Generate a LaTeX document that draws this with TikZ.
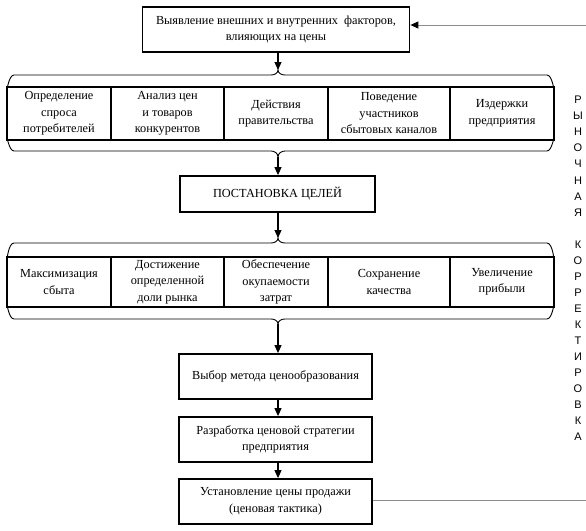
\documentclass[tikz,border=0pt]{standalone}
\usepackage{fontspec}
\setmainfont{Liberation Serif}
\newfontfamily\vfont{Liberation Sans}
\usetikzlibrary{arrows.meta}
\begin{document}
\begin{tikzpicture}[x=1pt,y=-1pt,
  box/.style={draw, line width=1.8pt, align=center, inner sep=0pt,
    font=\fontsize{12.3}{16.5}\selectfont},
  arr/.style={-{Triangle[length=8pt,width=7pt,color=black]}, line width=1.1pt},
  brace/.style={line width=0.9pt},
  fb/.style={line width=1pt, black!45},
  vl/.style={font=\vfont\fontsize{11}{12}\selectfont, inner sep=0pt}
]
\useasboundingbox (0,0) rectangle (586,530);

% top box
\node[box, minimum width=267pt, minimum height=45pt] (f) at (276,29.5)
  {Выявление внешних и внутренних\ \ факторов,\\влияющих на цены};

% row 1
\node[box, minimum width=104pt, minimum height=53pt] (a1) at (59,113.5) {Определение\\спроса\\потребителей};
\node[box, minimum width=113pt, minimum height=53pt] (a2) at (167.5,113.5) {Анализ цен\\и товаров\\конкурентов};
\node[box, minimum width=104pt, minimum height=53pt] (a3) at (276,113.5) {Действия\\правительства};
\node[box, minimum width=122pt, minimum height=53pt] (a4) at (389,113.5) {Поведение\\участников\\сбытовых каналов};
\node[box, minimum width=104pt, minimum height=53pt] (a5) at (502,113.5) {Издержки\\предприятия};

% braces row 1
\coordinate (c1t) at (278,70);
\coordinate (c1b) at (278,157);
\draw[brace] (7,87) to[out=-90,in=180] (14,75) -- (271,75) to[out=0,in=-90] (c1t)
  to[out=-90,in=180] (285,75) -- (547,75) to[out=0,in=-90] (554,87);
\draw[brace] (7,140) to[out=90,in=180] (14,151) -- (271,151) to[out=0,in=90] (c1b)
  to[out=90,in=180] (285,151) -- (547,151) to[out=0,in=90] (554,140);

% goals
\node[box, minimum width=195pt, minimum height=36pt] (p) at (277.5,194) {ПОСТАНОВКА ЦЕЛЕЙ};

% row 2
\node[box, minimum width=104pt, minimum height=50pt] (b1) at (59,282) {Максимизация\\сбыта};
\node[box, minimum width=113pt, minimum height=50pt] (b2) at (167.5,282) {Достижение\\определенной\\доли рынка};
\node[box, minimum width=104pt, minimum height=50pt] (b3) at (276,282) {Обеспечение\\окупаемости\\затрат};
\node[box, minimum width=122pt, minimum height=50pt] (b4) at (389,282) {Сохранение\\качества};
\node[box, minimum width=104pt, minimum height=50pt] (b5) at (502,282) {Увеличение\\прибыли};

% braces row 2
\coordinate (c2t) at (278,238);
\coordinate (c2b) at (278,324);
\draw[brace] (7,257) to[out=-90,in=180] (14,243) -- (271,243) to[out=0,in=-90] (c2t)
  to[out=-90,in=180] (285,243) -- (547,243) to[out=0,in=-90] (554,257);
\draw[brace] (7,307) to[out=90,in=180] (14,319) -- (271,319) to[out=0,in=90] (c2b)
  to[out=90,in=180] (285,319) -- (547,319) to[out=0,in=90] (554,307);

% lower chain
\node[box, minimum width=193pt, minimum height=45pt] (m) at (275.5,376.5) {Выбор метода ценообразования};
\node[box, minimum width=193pt, minimum height=45pt] (s) at (275.5,439.5) {Разработка ценовой стратегии\\предприятия};
\node[box, minimum width=193pt, minimum height=45pt] (u) at (275.5,501.5) {Установление цены продажи\\(ценовая тактика)};

% arrows
\draw[arr] (f.south -| c1t) -- (c1t);
\draw[arr] (c1b) -- (c1b |- p.north);
\draw[arr] (p.south -| c2t) -- (c2t);
\draw[arr] (c2b) -- (c2b |- m.north);
\draw[arr] (m.south -| c2b) -- (c2b |- s.north);
\draw[arr] (s.south -| c2b) -- (c2b |- u.north);

% feedback
\coordinate (fbt) at (586,25);
\coordinate (fbb) at (586,500);
\draw[arr, fb] (fbt) -- (fbt -| f.east);
\draw[fb] (u.east |- fbb) -- (fbb);

% vertical label
\foreach \l [count=\i] in {Р,Ы,Н,О,Ч,Н,А,Я,{},К,О,Р,Р,Е,К,Т,И,Р,О,В,К,А}
  \node[vl] (v\i) at (578,{100+16.05*(\i-1)}) {\l};
\end{tikzpicture}
\end{document}
